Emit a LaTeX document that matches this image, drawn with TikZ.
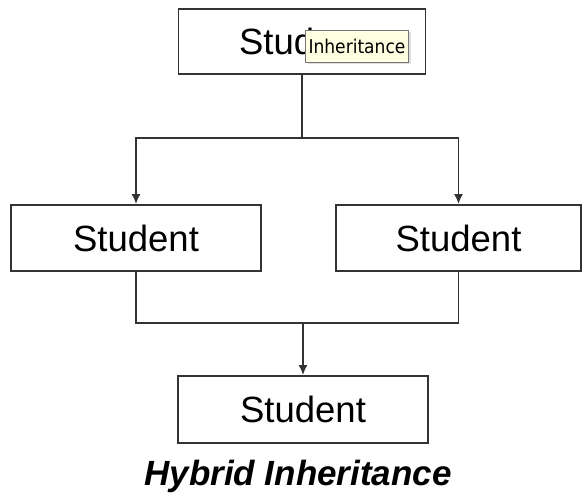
\documentclass[tikz,border=0pt]{standalone}
\usepackage{fontspec}
\setmainfont{Liberation Sans}
\newfontfamily\tipfont{DejaVu Sans Condensed}
\usetikzlibrary{arrows.meta,shadows}
\definecolor{edge}{HTML}{333333}
\definecolor{tipfill}{HTML}{FFFFE1}
\definecolor{tipedge}{HTML}{767676}
\tikzset{
  classbox/.style={draw=edge, line width=1.8pt, fill=white, inner sep=0pt,
    font=\fontsize{36.5}{42}\selectfont, text=black},
  link/.style={draw=edge, line width=1.8pt},
  arrowlink/.style={link, -{Latex[length=10pt,width=9pt]}},
  tooltip/.style={draw=tipedge, line width=0.8pt, fill=tipfill, inner sep=0pt,
    font=\tipfont\fontsize{19}{22}\selectfont,
    drop shadow={shadow xshift=2pt, shadow yshift=-2pt, opacity=0.25}},
}
\begin{document}
\begin{tikzpicture}[x=1pt, y=-1pt]
  \useasboundingbox[fill=white] (0,0) rectangle (582,498);

  % class boxes
  \node[classbox, minimum width=247pt, minimum height=65pt] (top) at (302,41.5) {Student};
  \node[classbox, minimum width=250pt, minimum height=66pt] (left) at (136,238) {Student};
  \node[classbox, minimum width=245pt, minimum height=66pt] (right) at (458.5,238) {Student};
  \node[classbox, minimum width=250pt, minimum height=67pt] (bottom) at (303,409.5) {Student};

  % branching from the base class
  \coordinate (split) at (top.south |- 0,138);
  \draw[link] (top.south) -- (split);
  \draw[arrowlink] (split) -| (left.north);
  \draw[arrowlink] (split) -| (right.north);

  % joining into the derived class
  \coordinate (join) at (bottom.north |- 0,323);
  \draw[link] (left.south) |- (join) -| (right.south);
  \draw[arrowlink] (join) -- (bottom.north);

  % tooltip over the top box
  \node[tooltip, minimum width=103pt, minimum height=32pt] (tip) at (357,46) {Inheritance};

  % caption
  \node[font=\fontsize{35}{40}\selectfont\bfseries\itshape, anchor=base] (caption) at (298,485) {Hybrid Inheritance};
\end{tikzpicture}
\end{document}
